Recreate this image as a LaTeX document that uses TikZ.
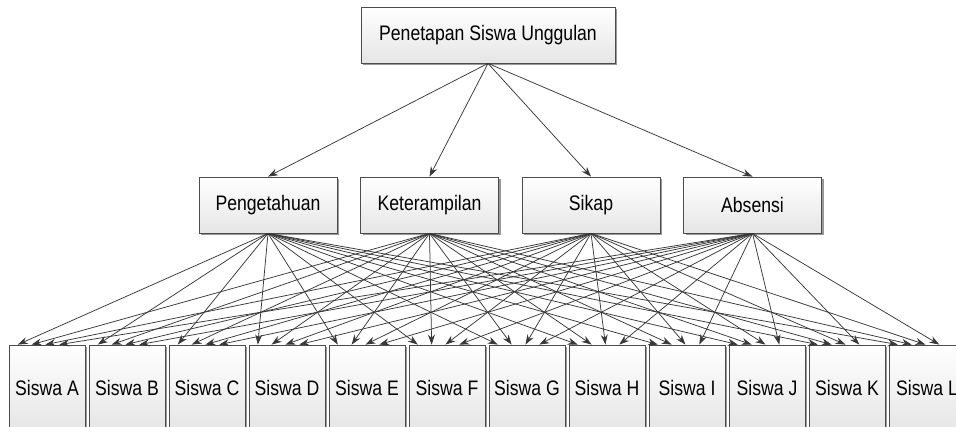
\documentclass[tikz,border=0pt]{standalone}
\usepackage{fontspec}
\setmainfont{Liberation Sans}[FakeStretch=0.84]
\usetikzlibrary{arrows.meta, shadows, calc}

\tikzset{
  kotak/.style={draw=black!70, line width=0.8pt, top color=white, bottom color=black!10,
    drop shadow={shadow xshift=2pt, shadow yshift=-2pt, fill=black!40, opacity=1},
    minimum height=56pt, inner sep=0pt, font=\fontsize{21}{25}\selectfont},
  siswa/.style={kotak, minimum width=76pt, minimum height=86pt},
  panah/.style={draw=black!78, line width=0.75pt, -{Stealth[length=10pt,width=7pt]}},
}

\begin{document}
\begin{tikzpicture}[x=1pt, y=-1pt]
\useasboundingbox (0,0) rectangle (956,427);
\node[kotak, minimum width=254pt] (pu) at (488, 35) {Penetapan Siswa Unggulan};
\node[kotak, minimum width=138pt] (k1) at (268, 205) {Pengetahuan};
\node[kotak, minimum width=138pt] (k2) at (429.5, 205) {Keterampilan};
\node[kotak, minimum width=138pt] (k3) at (591, 205) {Sikap};
\node[kotak, minimum width=138pt] (k4) at (752.5, 205) {Absensi};
\node[siswa] (s1) at (47, 388) {Siswa A};
\node[siswa] (s2) at (127, 388) {Siswa B};
\node[siswa] (s3) at (207, 388) {Siswa C};
\node[siswa] (s4) at (287, 388) {Siswa D};
\node[siswa] (s5) at (367, 388) {Siswa E};
\node[siswa] (s6) at (447, 388) {Siswa F};
\node[siswa] (s7) at (527, 388) {Siswa G};
\node[siswa] (s8) at (607, 388) {Siswa H};
\node[siswa] (s9) at (687, 388) {Siswa I};
\node[siswa] (s10) at (767, 388) {Siswa J};
\node[siswa] (s11) at (847, 388) {Siswa K};
\node[siswa] (s12) at (927, 388) {Siswa L};
\foreach \k in {1,...,4}
  \draw[panah] (pu.south) -- (k\k.north);
\foreach \k/\f in {1/0.12, 2/0.3, 3/0.48, 4/0.66}
  \foreach \s in {1,...,12}
    \draw[panah] (k\k.south) -- ($(s\s.north west)!\f!(s\s.north east)$);
\end{tikzpicture}
\end{document}
